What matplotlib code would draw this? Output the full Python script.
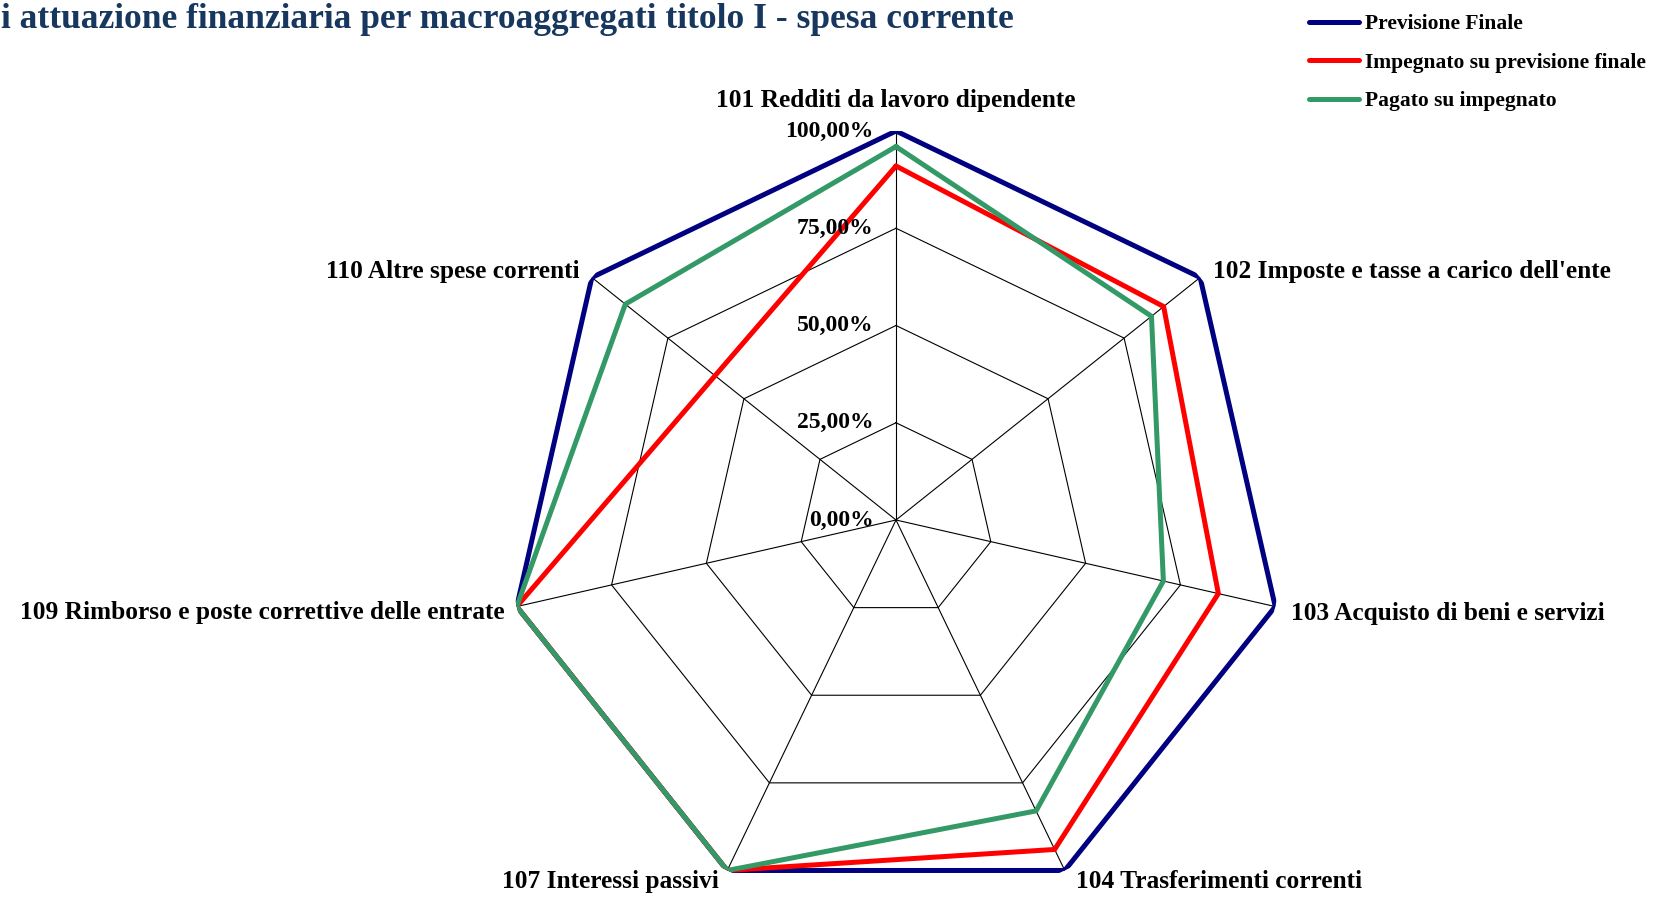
import numpy as np
import matplotlib.pyplot as plt

categories = [
    "101 Redditi da lavoro dipendente",
    "102 Imposte e tasse a carico dell'ente",
    "103 Acquisto di beni e servizi",
    "104 Trasferimenti correnti",
    "107 Interessi passivi",
    "109 Rimborso e poste correttive delle entrate",
    "110 Altre spese correnti",
]
previsione_finale = [1.00, 1.00, 1.00, 1.00, 1.00, 1.00, 1.00]
impegnato = [0.91, 0.88, 0.85, 0.94, 1.00, 1.00, 0.595]
pagato = [0.96, 0.84, 0.705, 0.83, 1.00, 1.00, 0.89]
ring_values = [0.0, 0.25, 0.50, 0.75, 1.00]
ring_labels = ["0,00%", "25,00%", "50,00%", "75,00%", "100,00%"]

serif = ["Liberation Serif", "DejaVu Serif"]
plt.rcParams["font.family"] = serif
plt.rcParams["font.weight"] = "bold"

W, H = 1655, 898
fig = plt.figure(figsize=(W / 100, H / 100), dpi=100)
cx, cy, R = 896, 520, 389
ax = fig.add_axes([(cx - R) / W, (H - cy - R) / H, 2 * R / W, 2 * R / H], projection="polar")
ax.set_theta_offset(np.pi / 2)
ax.set_theta_direction(-1)
ax.set_ylim(0, 1)
ax.axis("off")

n = len(categories)
theta = np.linspace(0, 2 * np.pi, n, endpoint=False)
closed = np.append(theta, theta[0])

# grid polygons and spokes
for v in ring_values[1:]:
    ax.plot(closed, [v] * (n + 1), color="black", lw=0.8, zorder=1)
for t in theta:
    ax.plot([t, t], [0, 1], color="black", lw=0.8, zorder=1)

series = [
    ("Previsione Finale", previsione_finale, "#000080"),
    ("Impegnato su previsione finale", impegnato, "#FF0000"),
    ("Pagato su impegnato", pagato, "#339966"),
]
lines = []
for name, vals, col in series:
    (ln,) = ax.plot(closed, vals + vals[:1], color=col, lw=3.6, label=name,
                    solid_joinstyle="miter", solid_capstyle="round", zorder=3)
    lines.append(ln)

# ring labels along the first axis
for v, lab in zip(ring_values, ring_labels):
    ax.annotate(lab, (0, v), xytext=(-16, 0), textcoords="offset points",
                ha="right", va="center", fontsize=17, fontweight="bold", zorder=4)

# category labels
offsets = [(0, 22, "center", "center"), (9, 4, "left", "center"), (11, -5, "left", "center"),
           (8, -8, "left", "center"), (-6, -8, "right", "center"), (-9, -4, "right", "center"),
           (-9, 4, "right", "center")]
for t, lab, (dx, dy, ha, va) in zip(theta, categories, offsets):
    ax.annotate(lab, (t, 1), xytext=(dx, dy), textcoords="offset points",
                ha=ha, va=va, fontsize=18.3, fontweight="bold")

fig.text(1 / W, 1 - 20 / H, "i attuazione finanziaria per macroaggregati titolo I - spesa corrente",
         ha="left", va="center", fontsize=25.5, fontweight="bold", color="#17375E")

fig.legend(handles=lines, loc="upper left", bbox_to_anchor=(1290 / W, 1 + 5 / H),
           frameon=False, handlelength=2.3, handletextpad=0.3,
           labelspacing=0.85, prop={"family": serif, "weight": "bold", "size": 15.5})

fig.savefig("out.png", dpi=100)
